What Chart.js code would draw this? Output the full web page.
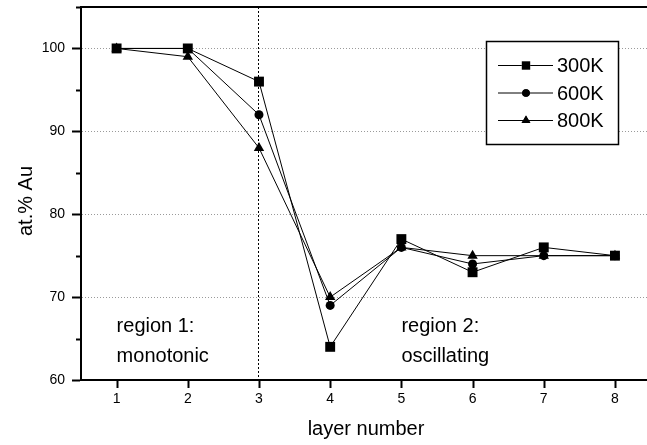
<!DOCTYPE html>
<html>
<head>
<meta charset="utf-8">
<script src="https://cdn.jsdelivr.net/npm/chart.js@4"></script>
<style>
  html, body { margin: 0; padding: 0; background: #fff; }
  #wrap { width: 647px; height: 445px; }
</style>
</head>
<body>
<div id="wrap"><canvas id="c" width="647" height="445"></canvas></div>
<script>
const layers = [1, 2, 3, 4, 5, 6, 7, 8];
const seriesLabels = ['300K', '600K', '800K'];
const au300 = [100, 100, 96, 64, 77, 73, 76, 75];
const au600 = [100, 100, 92, 69, 76, 74, 75, 75];
const au800 = [100, 99, 88, 70, 76, 75, 75, 75];
const yTickValues = [60, 70, 80, 90, 100];
const regionLabels = [
  { x: 1, lines: ['region 1:', 'monotonic'] },
  { x: 5, lines: ['region 2:', 'oscillating'] }
];
const FONT = '"Liberation Sans", Arial, Helvetica, sans-serif';

function pts(vals) { return layers.map((x, i) => ({ x: x, y: vals[i] })); }

const styles = [
  { pointStyle: 'rect', radius: 7 },
  { pointStyle: 'circle', radius: 4.5 },
  { pointStyle: 'triangle', radius: 6 }
];
const allVals = [au300, au600, au800];

const datasets = allVals.map((v, i) => ({
  label: seriesLabels[i],
  data: pts(v),
  borderColor: '#000',
  backgroundColor: '#000',
  borderWidth: 1,
  pointStyle: styles[i].pointStyle,
  pointRadius: styles[i].radius,
  pointHoverRadius: styles[i].radius,
  pointBorderWidth: 0,
  showLine: true,
  tension: 0
}));

const decor = {
  id: 'decor',
  afterDraw(chart) {
    const ctx = chart.ctx;
    const ca = chart.chartArea;
    const xs = chart.scales.x, ys = chart.scales.y;
    ctx.save();
    // top frame line
    ctx.strokeStyle = '#000';
    ctx.lineWidth = 2;
    ctx.beginPath();
    ctx.moveTo(ca.left - 1, ca.top);
    ctx.lineTo(chart.width, ca.top);
    ctx.stroke();
    // y ticks (major + minor)
    for (let v = 60; v <= 105; v += 5) {
      const y = Math.round(ys.getPixelForValue(v)) + 0.5;
      const len = (v % 10 === 0) ? 8 : 4;
      ctx.lineWidth = 2;
      ctx.beginPath();
      ctx.moveTo(ca.left - 1 - len, y);
      ctx.lineTo(ca.left - 1, y);
      ctx.stroke();
    }
    // x ticks
    layers.forEach(v => {
      const x = Math.round(xs.getPixelForValue(v)) + 0.5;
      ctx.lineWidth = 2;
      ctx.beginPath();
      ctx.moveTo(x, ca.bottom);
      ctx.lineTo(x, ca.bottom + 8);
      ctx.stroke();
    });
    // axis titles
    ctx.fillStyle = '#000';
    ctx.font = '20px ' + FONT;
    ctx.textAlign = 'center';
    ctx.textBaseline = 'middle';
    ctx.fillText('layer number', 366, 429);
    ctx.save();
    ctx.translate(26, 201);
    ctx.rotate(-Math.PI / 2);
    ctx.fillText('at.% Au', 0, 0);
    ctx.restore();
    // region annotations
    ctx.font = '20px ' + FONT;
    ctx.textAlign = 'left';
    ctx.textBaseline = 'alphabetic';
    regionLabels.forEach(r => {
      const x = xs.getPixelForValue(r.x);
      const y0 = 332;
      r.lines.forEach((t, k) => ctx.fillText(t, x, y0 + k * 30));
    });
    // legend
    const lx = 486.5, ly = 41.5, lw = 132, lh = 103;
    ctx.fillStyle = '#fff';
    ctx.fillRect(lx, ly, lw, lh);
    ctx.strokeStyle = '#000';
    ctx.lineWidth = 1.5;
    ctx.strokeRect(lx, ly, lw, lh);
    ctx.font = '20px ' + FONT;
    chart.data.datasets.forEach((ds, i) => {
      const y = 65 + i * 27.5;
      ctx.strokeStyle = '#000';
      ctx.lineWidth = 1;
      ctx.beginPath();
      ctx.moveTo(498, y + 0.5);
      ctx.lineTo(553, y + 0.5);
      ctx.stroke();
      Chart.helpers.drawPoint(ctx, {
        pointStyle: ds.pointStyle,
        radius: ds.pointRadius * 0.85,
        borderWidth: 0
      }, 526, y + 0.5);
      ctx.fillStyle = '#000';
      ctx.fill();
      ctx.textBaseline = 'alphabetic';
      ctx.fillText(ds.label, 557, y + 7);
    });
    ctx.restore();
  }
};

new Chart(document.getElementById('c'), {
  type: 'scatter',
  data: { datasets: datasets },
  options: {
    responsive: false,
    devicePixelRatio: 1,
    animation: false,
    layout: { autoPadding: false, padding: { top: 7, right: 0, left: 0, bottom: 0 } },
    plugins: {
      legend: { display: false },
      tooltip: { enabled: false }
    },
    scales: {
      x: {
        type: 'linear',
        min: 0.5,
        max: 8.45,
        afterBuildTicks: s => { s.ticks = layers.map(v => ({ value: v })); },
        afterFit: s => { s.height = 65; s.paddingLeft = 0; s.paddingRight = 0; },
        ticks: {
          color: '#000',
          font: { family: FONT, size: 14 },
          padding: 11,
          maxRotation: 0,
          autoSkip: false
        },
        grid: {
          drawTicks: false,
          lineWidth: 1,
          color: c => (c.tick && c.tick.value === 3) ? '#000' : 'rgba(0,0,0,0)'
        },
        border: { display: true, color: '#000', width: 2, dash: [2, 2] }
      },
      y: {
        type: 'linear',
        min: 60,
        max: 105,
        afterBuildTicks: s => { s.ticks = yTickValues.map(v => ({ value: v })); },
        afterFit: s => { s.width = 81; s.paddingTop = 0; s.paddingBottom = 0; },
        ticks: {
          color: '#000',
          font: { family: FONT, size: 14 },
          padding: 16
        },
        grid: {
          drawTicks: false,
          lineWidth: 1,
          color: c => (c.tick && c.tick.value > 60) ? '#9a9a9a' : 'rgba(0,0,0,0)'
        },
        border: { display: true, color: '#000', width: 2, dash: [1, 2] }
      }
    }
  },
  plugins: [decor]
});
</script>
</body>
</html>
